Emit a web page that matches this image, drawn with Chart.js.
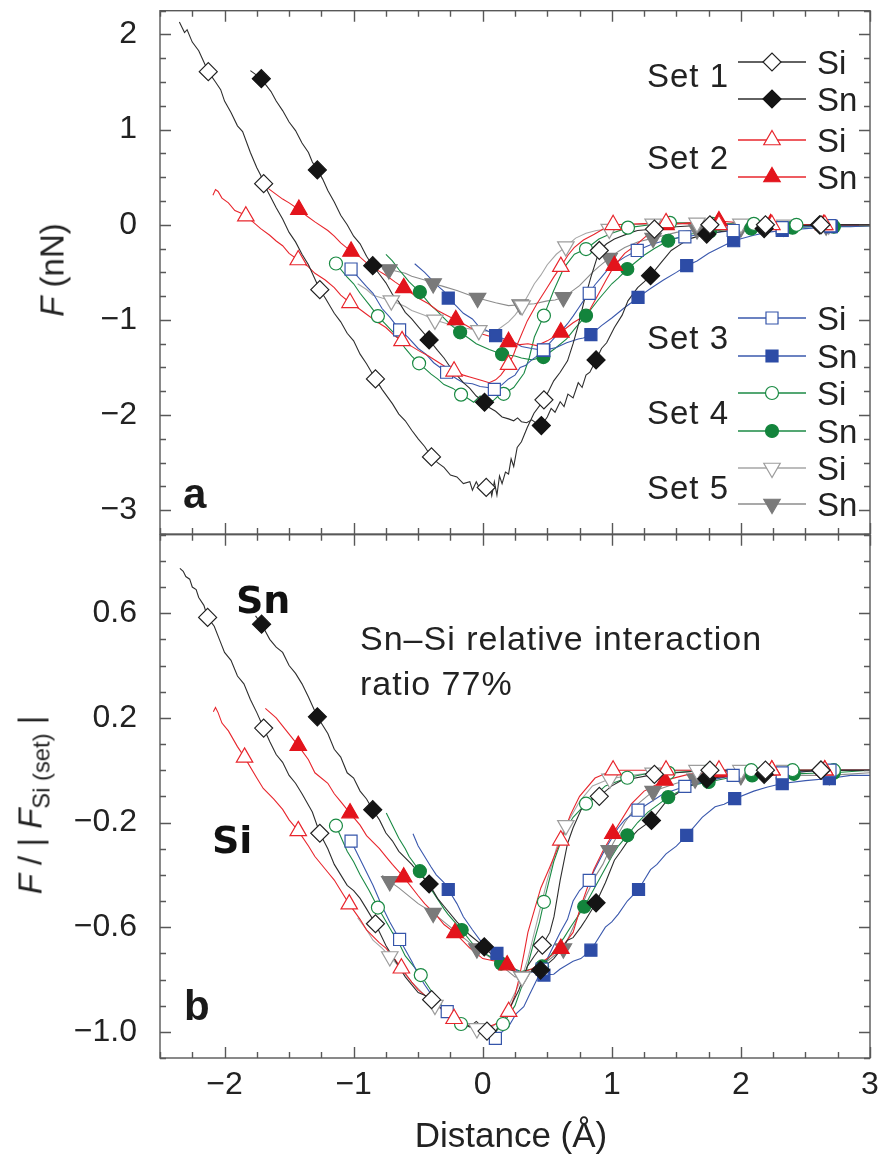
<!DOCTYPE html>
<html>
<head>
<meta charset="utf-8">
<script src="https://cdn.jsdelivr.net/npm/chart.js@4.4.1/dist/chart.umd.min.js"></script>
<style>
  html, body { margin: 0; padding: 0; background: #fff; }
  #page { position: relative; width: 888px; height: 1155px; overflow: hidden;
          font-family: "Liberation Sans", Arial, sans-serif; color: #222; }
  #page canvas { position: absolute; left: 0; }
  #chartA { top: 0; }
  #chartB { top: 524px; }
  .txt { position: absolute; white-space: nowrap; line-height: 1; }
  .ytitle { font-size: 33px; transform: translate(-50%, -50%) rotate(-90deg); }
  .ytitle .sub { font-size: 0.72em; position: relative; top: 0.32em; }
  .panel { font-size: 42px; font-weight: bold; color: #1a1a1a; }
  .tag { font-family: "DejaVu Sans", sans-serif; font-size: 38px; font-weight: bold; color: #111; }
  .note { font-size: 34px; letter-spacing: 1px; }
  .legset { font-size: 33px; letter-spacing: 1px; transform: translate(-100%, -50%); }
  .legatom { font-size: 33px; transform: translateY(-50%); }
</style>
</head>
<body>
<div id="page">
  <canvas id="chartA" width="888" height="545"></canvas>
  <canvas id="chartB" width="888" height="631"></canvas>

  <div class="txt ytitle" style="left:52px; top:270px;"><i>F</i> (nN)</div>
  <div class="txt ytitle" style="left:30px; top:805px;"><i>F</i> / | <i>F</i><span class="sub">Si (set)</span> |</div>
  <div class="txt" style="left:511px; top:1117px; font-size:35px; transform:translateX(-50%);">Distance (Å)</div>

  <div class="txt panel" style="left:183px; top:473px;">a</div>
  <div class="txt panel" style="left:184px; top:985px;">b</div>
  <div class="txt tag" style="left:236px; top:581px;">Sn</div>
  <div class="txt tag" style="left:212px; top:821px;">Si</div>
  <div class="txt note" style="left:360px; top:621px;">Sn–Si relative interaction</div>
  <div class="txt note" style="left:360px; top:666px;">ratio 77%</div>
  <div id="legendText"></div>
</div>

<script>
(function () {
  // axis extents and labelled ticks
  const DIST_MIN = -2.5, DIST_MAX = 3.0;
  const DIST_TICKS = [-2, -1, 0, 1, 2, 3];
  const FORCE_TICKS = [-3, -2, -1, 0, 1, 2];
  const RATIO_TICKS = [-1.0, -0.6, -0.2, 0.2, 0.6];
  const SET_NAMES = ["Set 1", "Set 2", "Set 3", "Set 4", "Set 5"];
  const TIP_ATOMS = ["Si", "Sn"];

  // ---- panel a: force F (nN) vs distance, [x, y] ----
  const a1SiPath = [[-2.35,2.13],[-2.31,2.02],[-2.29,2.05],[-2.25,1.92],[-2.2,1.83],[-2.17,1.74],[-2.07,1.5],[-2.03,1.42],[-2.0,1.3],[-1.95,1.18],[-1.9,1.04],[-1.86,0.98],[-1.8,0.76],[-1.75,0.6],[-1.72,0.52],[-1.65,0.31],[-1.6,0.18],[-1.55,0.06],[-1.5,-0.08],[-1.45,-0.18],[-1.4,-0.31],[-1.35,-0.42],[-1.3,-0.57],[-1.22,-0.77],[-1.15,-0.93],[-1.1,-1.02],[-1.05,-1.14],[-1.0,-1.22],[-0.95,-1.36],[-0.9,-1.46],[-0.78,-1.73],[-0.7,-1.88],[-0.65,-1.99],[-0.6,-2.06],[-0.55,-2.16],[-0.5,-2.25],[-0.45,-2.33],[-0.35,-2.5],[-0.3,-2.55],[-0.25,-2.63],[-0.2,-2.65],[-0.15,-2.72],[-0.1,-2.7],[-0.08,-2.79],[-0.05,-2.7],[-0.02,-2.78],[0.05,-2.72],[0.07,-2.85],[0.09,-2.7],[0.11,-2.84],[0.13,-2.64],[0.15,-2.72],[0.176,-2.6],[0.2,-2.62],[0.22,-2.46],[0.24,-2.54],[0.267,-2.34],[0.3,-2.28],[0.345,-2.13],[0.397,-1.98],[0.51,-1.75],[0.55,-1.64],[0.6,-1.55],[0.657,-1.43],[0.7,-1.25],[0.735,-1.08],[0.786,-0.8],[0.838,-0.55],[0.96,-0.2],[1.02,-0.15],[1.15,-0.08],[1.2,-0.06],[1.5,-0.02],[1.9,0.0],[2.4,-0.01],[2.8,0.0],[3.0,0.0]];
  const a1SiMarks = [[-2.126,1.609],[-1.697,0.432],[-1.262,-0.682],[-0.831,-1.62],[-0.397,-2.44],[0.027,-2.76],[0.474,-1.84],[0.903,-0.27],[1.33,-0.045],[1.76,0.0],[2.19,0.0],[2.62,0.0]];
  const a1SnPath = [[-1.8,1.62],[-1.68,1.47],[-1.64,1.4],[-1.6,1.3],[-1.55,1.2],[-1.5,1.08],[-1.45,0.99],[-1.4,0.86],[-1.35,0.76],[-1.32,0.66],[-1.24,0.48],[-1.2,0.36],[-1.15,0.24],[-1.1,0.1],[-1.05,0.0],[-1.0,-0.12],[-0.95,-0.2],[-0.9,-0.33],[-0.8,-0.52],[-0.75,-0.61],[-0.7,-0.73],[-0.65,-0.81],[-0.6,-0.92],[-0.55,-0.99],[-0.5,-1.07],[-0.45,-1.15],[-0.35,-1.32],[-0.3,-1.4],[-0.25,-1.5],[-0.2,-1.58],[-0.15,-1.66],[-0.1,-1.72],[-0.05,-1.8],[0.05,-1.92],[0.1,-1.96],[0.15,-2.02],[0.2,-2.04],[0.24,-2.06],[0.27,-2.03],[0.3,-2.07],[0.34,-2.08],[0.38,-2.05],[0.42,-2.09],[0.5,-2.02],[0.53,-1.93],[0.56,-1.97],[0.6,-1.86],[0.63,-1.91],[0.66,-1.78],[0.7,-1.82],[0.74,-1.66],[0.77,-1.71],[0.8,-1.58],[0.83,-1.55],[0.92,-1.3],[0.96,-1.24],[1.02,-1.08],[1.08,-0.95],[1.125,-0.8],[1.2,-0.66],[1.25,-0.6],[1.38,-0.4],[1.46,-0.27],[1.55,-0.19],[1.62,-0.14],[1.85,-0.07],[2.0,-0.05],[2.3,-0.03],[2.45,-0.01],[2.8,0.0],[3.0,0.0]];
  const a1SnMarks = [[-1.715,1.536],[-1.281,0.577],[-0.852,-0.43],[-0.415,-1.21],[0.014,-1.865],[0.454,-2.11],[0.878,-1.42],[1.3,-0.535],[1.735,-0.098],[2.18,-0.04],[2.61,0.0]];

  const a2SiPath = [[-2.09,0.31],[-2.07,0.37],[-2.05,0.35],[-2.02,0.28],[-1.97,0.23],[-1.92,0.15],[-1.87,0.12],[-1.78,0.03],[-1.72,-0.04],[-1.65,-0.11],[-1.6,-0.17],[-1.55,-0.22],[-1.5,-0.3],[-1.36,-0.43],[-1.3,-0.51],[-1.22,-0.58],[-1.15,-0.66],[-1.1,-0.74],[-0.96,-0.88],[-0.9,-0.94],[-0.82,-1.02],[-0.75,-1.08],[-0.68,-1.17],[-0.56,-1.27],[-0.5,-1.32],[-0.42,-1.38],[-0.35,-1.44],[-0.28,-1.5],[-0.15,-1.58],[-0.1,-1.6],[0.0,-1.64],[0.05,-1.66],[0.1,-1.63],[0.14,-1.58],[0.24,-1.36],[0.27,-1.25],[0.345,-1.01],[0.42,-0.83],[0.5,-0.66],[0.55,-0.55],[0.66,-0.32],[0.708,-0.24],[0.78,-0.16],[0.864,-0.1],[0.94,-0.04],[1.2,0.01],[1.6,0.01],[2.0,0.0],[2.5,0.0],[3.0,0.0]];
  const a2SiMarks = [[-1.835,0.09],[-1.429,-0.37],[-1.028,-0.82],[-0.625,-1.22],[-0.222,-1.54],[0.2,-1.47],[0.605,-0.44],[1.01,0.0],[1.42,0.02],[1.83,0.0],[2.24,0.0],[2.65,0.0]];
  const a2SnPath = [[-1.66,0.38],[-1.6,0.32],[-1.55,0.27],[-1.5,0.23],[-1.36,0.09],[-1.3,0.03],[-1.2,-0.06],[-1.15,-0.12],[-1.1,-0.19],[-0.95,-0.34],[-0.9,-0.4],[-0.8,-0.49],[-0.75,-0.53],[-0.68,-0.6],[-0.55,-0.72],[-0.5,-0.77],[-0.42,-0.83],[-0.35,-0.9],[-0.28,-0.95],[-0.15,-1.04],[-0.1,-1.08],[0.0,-1.15],[0.1,-1.19],[0.29,-1.26],[0.35,-1.25],[0.42,-1.27],[0.5,-1.22],[0.55,-1.18],[0.7,-1.03],[0.81,-0.94],[0.88,-0.77],[0.96,-0.57],[1.1,-0.3],[1.18,-0.22],[1.3,-0.08],[1.6,0.02],[2.0,0.02],[2.45,0.0],[3.0,0.0]];
  const a2SnMarks = [[-1.424,0.16],[-1.02,-0.28],[-0.612,-0.663],[-0.209,-1.0],[0.2,-1.23],[0.605,-1.13],[1.02,-0.43],[1.42,0.0],[1.83,0.04],[2.23,0.01],[2.64,0.0]];

  const a3SiPath = [[-0.9,-0.65],[-0.85,-0.72],[-0.78,-0.88],[-0.72,-0.97],[-0.58,-1.18],[-0.5,-1.3],[-0.44,-1.36],[-0.38,-1.45],[-0.2,-1.62],[-0.15,-1.66],[-0.08,-1.67],[-0.02,-1.7],[0.04,-1.71],[0.15,-1.68],[0.2,-1.62],[0.25,-1.58],[0.29,-1.5],[0.33,-1.48],[0.38,-1.42],[0.42,-1.38],[0.52,-1.24],[0.56,-1.18],[0.6,-1.13],[0.657,-1.04],[0.7,-0.96],[0.74,-0.88],[0.78,-0.8],[0.87,-0.63],[0.92,-0.55],[0.97,-0.47],[1.02,-0.41],[1.1,-0.34],[1.3,-0.21],[1.45,-0.15],[1.75,-0.09],[2.1,-0.04],[2.5,-0.02],[3.0,-0.01]];
  const a3SiMarks = [[-1.02,-0.465],[-0.644,-1.105],[-0.28,-1.55],[0.09,-1.73],[0.47,-1.315],[0.825,-0.72],[1.197,-0.27],[1.566,-0.126],[1.94,-0.06],[2.32,-0.03],[2.69,-0.01]];
  const a3SnPath = [[-0.527,-0.41],[-0.45,-0.5],[-0.4,-0.57],[-0.36,-0.63],[-0.3,-0.7],[-0.2,-0.86],[-0.15,-0.93],[-0.08,-0.99],[-0.03,-1.07],[0.03,-1.11],[0.2,-1.22],[0.25,-1.24],[0.3,-1.28],[0.38,-1.3],[0.57,-1.29],[0.65,-1.24],[0.74,-1.2],[0.78,-1.19],[0.92,-1.06],[1.0,-0.98],[1.1,-0.87],[1.15,-0.82],[1.3,-0.67],[1.4,-0.58],[1.5,-0.5],[1.66,-0.38],[1.75,-0.3],[1.85,-0.23],[2.1,-0.11],[2.2,-0.08],[2.5,-0.04],[2.85,-0.02],[3.0,-0.01]];
  const a3SnMarks = [[-0.267,-0.77],[0.1,-1.165],[0.474,-1.32],[0.838,-1.154],[1.203,-0.763],[1.58,-0.43],[1.944,-0.168],[2.32,-0.06],[2.7,-0.02]];

  const a4SiPath = [[-1.05,-0.55],[-1.0,-0.62],[-0.95,-0.72],[-0.88,-0.84],[-0.7,-1.12],[-0.65,-1.2],[-0.6,-1.3],[-0.55,-1.38],[-0.4,-1.57],[-0.35,-1.62],[-0.3,-1.68],[-0.23,-1.72],[-0.12,-1.82],[-0.07,-1.865],[-0.02,-1.8],[0.02,-1.84],[0.08,-1.85],[0.12,-1.8],[0.24,-1.71],[0.32,-1.56],[0.36,-1.4],[0.4,-1.18],[0.55,-0.69],[0.63,-0.45],[0.71,-0.31],[0.9,-0.15],[1.0,-0.09],[1.3,0.0],[1.6,0.02],[2.0,0.01],[2.6,0.0],[3.0,0.0]];
  const a4SiMarks = [[-1.137,-0.407],[-0.812,-0.96],[-0.493,-1.456],[-0.168,-1.785],[0.162,-1.777],[0.474,-0.955],[0.8,-0.255],[1.125,-0.03],[1.45,0.02],[1.78,0.01],[2.1,0.01],[2.43,0.0]];
  const a4SnPath = [[-0.75,-0.31],[-0.7,-0.38],[-0.65,-0.47],[-0.6,-0.55],[-0.57,-0.6],[-0.4,-0.85],[-0.35,-0.91],[-0.3,-0.98],[-0.25,-1.05],[-0.1,-1.2],[-0.05,-1.25],[0.05,-1.31],[0.25,-1.38],[0.3,-1.4],[0.38,-1.42],[0.56,-1.3],[0.65,-1.2],[0.72,-1.08],[0.9,-0.78],[1.0,-0.62],[1.05,-0.56],[1.25,-0.32],[1.33,-0.25],[1.6,-0.1],[1.9,-0.05],[2.25,-0.03],[2.55,-0.02],[3.0,-0.01]];
  const a4SnMarks = [[-0.487,-0.707],[-0.175,-1.13],[0.15,-1.36],[0.47,-1.39],[0.8,-0.955],[1.12,-0.465],[1.437,-0.168],[1.76,-0.07],[2.08,-0.04],[2.4,-0.03],[2.72,-0.02]];

  const a5SiPath = [[-0.969,-0.62],[-0.9,-0.68],[-0.85,-0.74],[-0.78,-0.77],[-0.6,-0.86],[-0.55,-0.9],[-0.45,-0.95],[-0.25,-1.05],[-0.2,-1.07],[-0.12,-1.09],[0.05,-1.12],[0.12,-1.1],[0.2,-1.02],[0.25,-0.95],[0.36,-0.72],[0.4,-0.62],[0.45,-0.53],[0.5,-0.42],[0.57,-0.31],[0.72,-0.14],[0.8,-0.09],[0.88,-0.06],[1.15,0.0],[1.5,0.01],[2.2,0.01],[3.0,0.0]];
  const a5SiMarks = [[-0.708,-0.797],[-0.37,-1.0],[-0.03,-1.11],[0.305,-0.85],[0.644,-0.23],[0.98,-0.045],[1.32,0.01],[1.66,0.02],[2.0,0.01],[2.34,0.0],[2.68,0.0]];
  const a5SnPath = [[-0.778,-0.465],[-0.6,-0.51],[-0.55,-0.54],[-0.45,-0.58],[-0.3,-0.65],[-0.2,-0.69],[-0.1,-0.74],[0.1,-0.82],[0.2,-0.85],[0.4,-0.83],[0.5,-0.8],[0.56,-0.79],[0.7,-0.69],[0.75,-0.64],[0.85,-0.5],[0.9,-0.44],[1.05,-0.28],[1.1,-0.24],[1.2,-0.18],[1.5,-0.08],[1.8,-0.04],[2.2,-0.02],[2.5,-0.01],[3.0,0.0]];
  const a5SnMarks = [[-0.727,-0.47],[-0.384,-0.617],[-0.04,-0.77],[0.29,-0.84],[0.625,-0.763],[0.98,-0.35],[1.32,-0.14],[1.66,-0.05],[2.0,-0.03],[2.33,-0.02],[2.66,-0.01]];

  // ---- panel b: F / |F_Si(set)| vs distance ----
  const b1SiPath = [[-2.346,0.771],[-2.32,0.76],[-2.3,0.74],[-2.27,0.73],[-2.25,0.7],[-2.22,0.69],[-2.2,0.66],[-2.16,0.63],[-2.08,0.55],[-2.04,0.5],[-2.0,0.45],[-1.95,0.42],[-1.9,0.36],[-1.85,0.33],[-1.8,0.27],[-1.75,0.22],[-1.65,0.11],[-1.6,0.06],[-1.55,0.03],[-1.5,-0.02],[-1.45,-0.05],[-1.4,-0.09],[-1.32,-0.16],[-1.2,-0.3],[-1.15,-0.36],[-1.1,-0.4],[-1.05,-0.44],[-1.0,-0.46],[-0.95,-0.49],[-0.9,-0.53],[-0.75,-0.67],[-0.7,-0.71],[-0.6,-0.79],[-0.5,-0.85],[-0.45,-0.86],[-0.3,-0.92],[-0.2,-0.96],[-0.1,-0.98],[-0.05,-0.96],[0.1,-1.0],[0.13,-0.97],[0.15,-0.98],[0.2,-0.92],[0.24,-0.879],[0.28,-0.84],[0.345,-0.75],[0.4,-0.71],[0.52,-0.62],[0.552,-0.56],[0.6,-0.42],[0.657,-0.28],[0.7,-0.22],[0.76,-0.153],[0.82,-0.12],[1.0,-0.06],[1.07,-0.04],[1.5,-0.01],[2.0,0.0],[2.4,0.0],[3.0,0.0]];
  const b1SiMarks = [[-2.131,0.584],[-1.697,0.161],[-1.262,-0.241],[-0.831,-0.587],[-0.396,-0.877],[0.033,-0.997],[0.462,-0.669],[0.903,-0.1],[1.33,-0.016],[1.76,0.0],[2.19,0.0],[2.62,0.0]];
  const b1SnPath = [[-1.76,0.59],[-1.65,0.5],[-1.6,0.47],[-1.55,0.45],[-1.5,0.4],[-1.45,0.37],[-1.4,0.33],[-1.35,0.28],[-1.2,0.14],[-1.15,0.08],[-1.1,0.05],[-1.05,-0.01],[-1.0,-0.03],[-0.95,-0.08],[-0.9,-0.11],[-0.8,-0.19],[-0.75,-0.24],[-0.7,-0.27],[-0.65,-0.31],[-0.55,-0.36],[-0.5,-0.39],[-0.35,-0.49],[-0.3,-0.52],[-0.2,-0.58],[-0.1,-0.63],[0.1,-0.72],[0.2,-0.76],[0.3,-0.78],[0.38,-0.77],[0.55,-0.72],[0.6,-0.69],[0.657,-0.65],[0.7,-0.64],[0.76,-0.6],[0.8,-0.57],[0.95,-0.43],[1.02,-0.344],[1.07,-0.31],[1.125,-0.27],[1.2,-0.23],[1.42,-0.12],[1.54,-0.077],[1.6,-0.06],[1.95,-0.02],[2.4,-0.01],[3.0,0.0]];
  const b1SnMarks = [[-1.713,0.558],[-1.281,0.204],[-0.852,-0.151],[-0.415,-0.435],[0.012,-0.675],[0.448,-0.764],[0.878,-0.507],[1.307,-0.192],[1.735,-0.033],[2.18,-0.016],[2.62,0.0]];

  const b2SiPath = [[-2.087,0.223],[-2.07,0.24],[-2.05,0.22],[-2.02,0.18],[-1.97,0.15],[-1.9,0.09],[-1.75,-0.03],[-1.7,-0.07],[-1.62,-0.11],[-1.55,-0.15],[-1.5,-0.19],[-1.35,-0.29],[-1.3,-0.33],[-1.2,-0.39],[-1.15,-0.42],[-1.1,-0.46],[-0.95,-0.57],[-0.9,-0.61],[-0.8,-0.66],[-0.75,-0.68],[-0.7,-0.71],[-0.55,-0.81],[-0.5,-0.84],[-0.4,-0.88],[-0.35,-0.9],[-0.3,-0.92],[-0.15,-0.96],[-0.1,-0.98],[-0.05,-0.97],[0.0,-0.99],[0.05,-0.98],[0.1,-0.97],[0.15,-0.95],[0.25,-0.86],[0.28,-0.8],[0.32,-0.7],[0.35,-0.62],[0.45,-0.45],[0.52,-0.37],[0.68,-0.17],[0.75,-0.1],[0.87,-0.03],[1.2,0.0],[1.6,0.0],[2.2,0.0],[3.0,0.0]];
  const b2SiMarks = [[-1.845,0.049],[-1.429,-0.232],[-1.034,-0.512],[-0.63,-0.757],[-0.222,-0.95],[0.201,-0.923],[0.605,-0.268],[1.01,0.0],[1.42,0.0],[1.83,0.0],[2.24,0.0],[2.65,0.0]];
  const b2SnPath = [[-1.684,0.236],[-1.6,0.2],[-1.52,0.15],[-1.35,0.04],[-1.3,-0.01],[-1.2,-0.05],[-1.15,-0.09],[-1.1,-0.12],[-0.95,-0.21],[-0.9,-0.25],[-0.8,-0.3],[-0.75,-0.33],[-0.7,-0.36],[-0.5,-0.48],[-0.45,-0.51],[-0.35,-0.56],[-0.3,-0.59],[-0.1,-0.68],[0.0,-0.72],[0.1,-0.73],[0.28,-0.78],[0.32,-0.77],[0.38,-0.76],[0.5,-0.72],[0.7,-0.62],[0.76,-0.52],[0.86,-0.38],[0.93,-0.31],[1.15,-0.13],[1.25,-0.08],[1.6,-0.015],[2.0,0.0],[2.45,0.0],[3.0,0.0]];
  const b2SnMarks = [[-1.429,0.094],[-1.028,-0.164],[-0.612,-0.409],[-0.215,-0.622],[0.189,-0.745],[0.605,-0.682],[1.008,-0.243],[1.41,-0.039],[1.827,-0.007],[2.24,0.0],[2.65,0.0]];

  const b3SiPath = [[-0.9,-0.39],[-0.85,-0.44],[-0.78,-0.52],[-0.72,-0.58],[-0.55,-0.73],[-0.5,-0.78],[-0.45,-0.82],[-0.38,-0.87],[-0.2,-0.95],[-0.15,-0.97],[-0.05,-0.99],[0.0,-1.0],[0.05,-1.02],[0.15,-1.0],[0.2,-0.98],[0.26,-0.93],[0.318,-0.904],[0.36,-0.86],[0.4,-0.82],[0.55,-0.67],[0.6,-0.62],[0.657,-0.57],[0.7,-0.5],[0.75,-0.46],[0.95,-0.3],[1.05,-0.22],[1.1,-0.19],[1.4,-0.09],[1.75,-0.04],[2.1,-0.015],[2.5,-0.005],[3.0,0.0]];
  const b3SiMarks = [[-1.02,-0.271],[-0.644,-0.647],[-0.275,-0.923],[0.098,-1.025],[0.46,-0.76],[0.825,-0.421],[1.203,-0.153],[1.566,-0.062],[1.94,-0.02],[2.32,-0.01],[2.69,0.0]];
  const b3SnPath = [[-0.54,-0.243],[-0.5,-0.29],[-0.45,-0.33],[-0.4,-0.37],[-0.36,-0.4],[-0.3,-0.43],[-0.2,-0.51],[-0.15,-0.56],[-0.08,-0.61],[-0.02,-0.65],[0.05,-0.68],[0.2,-0.74],[0.3,-0.78],[0.38,-0.77],[0.55,-0.78],[0.6,-0.76],[0.7,-0.73],[0.76,-0.72],[0.95,-0.6],[1.0,-0.58],[1.05,-0.55],[1.12,-0.5],[1.3,-0.38],[1.35,-0.36],[1.42,-0.32],[1.5,-0.29],[1.7,-0.18],[1.8,-0.14],[1.87,-0.13],[2.1,-0.08],[2.2,-0.065],[2.5,-0.04],[2.85,-0.02],[3.0,-0.02]];
  const b3SnMarks = [[-0.267,-0.456],[0.11,-0.7],[0.474,-0.783],[0.838,-0.688],[1.207,-0.456],[1.58,-0.249],[1.952,-0.109],[2.32,-0.051],[2.685,-0.032]];

  const b4SiPath = [[-1.05,-0.31],[-1.0,-0.35],[-0.95,-0.4],[-0.88,-0.46],[-0.7,-0.62],[-0.65,-0.66],[-0.6,-0.71],[-0.55,-0.74],[-0.35,-0.88],[-0.3,-0.91],[-0.25,-0.94],[-0.05,-0.99],[0.05,-0.98],[0.1,-1.0],[0.25,-0.9],[0.3,-0.83],[0.33,-0.78],[0.4,-0.65],[0.44,-0.58],[0.55,-0.35],[0.6,-0.28],[0.65,-0.22],[0.7,-0.18],[0.95,-0.06],[1.3,-0.01],[2.0,0.0],[3.0,0.0]];
  const b4SiMarks = [[-1.137,-0.212],[-0.812,-0.525],[-0.48,-0.783],[-0.168,-0.97],[0.157,-0.97],[0.474,-0.503],[0.8,-0.128],[1.12,-0.029],[1.44,-0.01],[1.76,0.0],[2.08,0.0],[2.4,0.0],[2.72,0.0]];
  const b4SnPath = [[-0.747,-0.164],[-0.7,-0.21],[-0.65,-0.26],[-0.6,-0.3],[-0.57,-0.33],[-0.42,-0.44],[-0.38,-0.47],[-0.3,-0.53],[-0.27,-0.55],[-0.1,-0.65],[-0.05,-0.68],[0.05,-0.71],[0.25,-0.76],[0.3,-0.77],[0.38,-0.76],[0.57,-0.68],[0.63,-0.64],[0.68,-0.6],[0.9,-0.42],[1.0,-0.33],[1.05,-0.29],[1.2,-0.2],[1.28,-0.16],[1.6,-0.06],[1.9,-0.03],[2.25,-0.017],[2.55,-0.012],[3.0,0.0]];
  const b4SnMarks = [[-0.487,-0.386],[-0.163,-0.611],[0.142,-0.739],[0.46,-0.75],[0.786,-0.522],[1.12,-0.249],[1.437,-0.103],[1.75,-0.045],[2.087,-0.02],[2.41,-0.014],[2.72,-0.01]];

  const b5SiPath = [[-0.969,-0.564],[-0.9,-0.61],[-0.85,-0.65],[-0.78,-0.68],[-0.65,-0.75],[-0.55,-0.81],[-0.45,-0.86],[-0.3,-0.92],[-0.2,-0.95],[-0.1,-0.97],[0.05,-0.99],[0.1,-0.97],[0.15,-0.95],[0.22,-0.88],[0.26,-0.84],[0.35,-0.72],[0.4,-0.62],[0.45,-0.52],[0.5,-0.42],[0.57,-0.3],[0.6,-0.26],[0.75,-0.12],[0.85,-0.06],[1.15,-0.02],[1.5,0.0],[3.0,0.0]];
  const b5SiMarks = [[-0.72,-0.712],[-0.37,-0.898],[-0.045,-0.987],[0.305,-0.79],[0.644,-0.211],[0.985,-0.033],[1.32,-0.01],[1.66,0.0],[2.0,0.0],[2.34,0.0],[2.68,0.0]];
  const b5SnPath = [[-0.778,-0.402],[-0.65,-0.45],[-0.55,-0.49],[-0.5,-0.51],[-0.3,-0.58],[-0.2,-0.62],[-0.1,-0.66],[0.1,-0.73],[0.2,-0.77],[0.25,-0.79],[0.4,-0.76],[0.5,-0.73],[0.55,-0.71],[0.72,-0.58],[0.8,-0.48],[0.88,-0.4],[0.93,-0.36],[1.1,-0.2],[1.2,-0.13],[1.5,-0.05],[1.8,-0.025],[2.2,-0.02],[2.5,-0.02],[3.0,-0.01]];
  const b5SnMarks = [[-0.72,-0.425],[-0.384,-0.546],[-0.045,-0.682],[0.305,-0.79],[0.625,-0.682],[0.98,-0.306],[1.32,-0.08],[1.645,-0.033],[2.0,-0.02],[2.33,-0.02],[2.685,-0.02]];

  // per set: [Si, Sn] as [path, marks]
  const panelA = [
    [[a1SiPath, a1SiMarks], [a1SnPath, a1SnMarks]],
    [[a2SiPath, a2SiMarks], [a2SnPath, a2SnMarks]],
    [[a3SiPath, a3SiMarks], [a3SnPath, a3SnMarks]],
    [[a4SiPath, a4SiMarks], [a4SnPath, a4SnMarks]],
    [[a5SiPath, a5SiMarks], [a5SnPath, a5SnMarks]],
  ];
  const panelB = [
    [[b1SiPath, b1SiMarks], [b1SnPath, b1SnMarks]],
    [[b2SiPath, b2SiMarks], [b2SnPath, b2SnMarks]],
    [[b3SiPath, b3SiMarks], [b3SnPath, b3SnMarks]],
    [[b4SiPath, b4SiMarks], [b4SnPath, b4SnMarks]],
    [[b5SiPath, b5SiMarks], [b5SnPath, b5SnMarks]],
  ];

  // line colour / marker colour for [Si, Sn]; Si markers are open
  const LOOKS = [
    { line: ["#2e2e2e", "#2e2e2e"], mark: ["#222222", "#141414"], shape: "rectRot", r: 9, rot: 0 },
    { line: ["#e8262d", "#e8262d"], mark: ["#e8262d", "#e3141c"], shape: "triangle", r: 9.5, rot: 0 },
    { line: ["#3a58ad", "#3a58ad"], mark: ["#3555aa", "#2d4ca6"], shape: "rect", r: 8.5, rot: 0 },
    { line: ["#1b8a45", "#1b8a45"], mark: ["#1a8a43", "#13843c"], shape: "circle", r: 6.5, rot: 0 },
    { line: ["#a6a6a6", "#8c8c8c"], mark: ["#9d9d9d", "#7a7a7a"], shape: "triangle", r: 9.5, rot: 180 },
  ];

  const toXY = (pts) => pts.map((p) => ({ x: p[0], y: p[1] }));

  function buildDatasets(panel) {
    const lines = [];
    const marks = [];
    panel.forEach((pair, s) => {
      const look = LOOKS[s];
      pair.forEach(([path, pts], k) => {
        const merged = toXY(path.concat(pts)).sort((p, q) => p.x - q.x);
        lines.push({
          label: SET_NAMES[s] + " " + TIP_ATOMS[k],
          data: merged,
          showLine: true,
          borderColor: look.line[k],
          borderWidth: 1.1,
          pointRadius: 0,
          pointHoverRadius: 0,
          order: 10,
        });
        marks.push({
          label: SET_NAMES[s] + " " + TIP_ATOMS[k] + " markers",
          data: toXY(pts),
          showLine: false,
          pointStyle: look.shape,
          pointRadius: look.r,
          pointHoverRadius: look.r,
          pointRotation: look.rot,
          pointBackgroundColor: k === 0 ? "#ffffff" : look.mark[k],
          pointBorderColor: look.mark[k],
          pointBorderWidth: 1.2,
          order: 1,
        });
      });
    });
    return lines.concat(marks);
  }

  function stepValues(from, to, step) {
    const out = [];
    const n = Math.round((to - from) / step);
    for (let i = 0; i <= n; i++) out.push(Math.round((from + i * step) * 1000) / 1000);
    return out;
  }

  function isMajor(v, base, step) {
    const q = (v - base) / step;
    return Math.abs(q - Math.round(q)) < 1e-6;
  }

  // boxed frame with inward ticks on all four sides
  const frameTicks = {
    id: "frameTicks",
    afterDraw(chart, args, opts) {
      const { ctx, chartArea: area } = chart;
      const xs = chart.scales.x;
      const ys = chart.scales.y;
      const big = 11, small = 6;
      ctx.save();
      ctx.strokeStyle = "#585858";
      ctx.lineWidth = 1.4;
      ctx.strokeRect(area.left, area.top, area.right - area.left, area.bottom - area.top);
      ctx.beginPath();
      stepValues(DIST_MIN, DIST_MAX, 0.25).forEach((v) => {
        const px = Math.round(xs.getPixelForValue(v)) + 0.5;
        const len = isMajor(v, 0, 1) ? big : small;
        ctx.moveTo(px, area.bottom); ctx.lineTo(px, area.bottom - len);
        ctx.moveTo(px, area.top); ctx.lineTo(px, area.top + len);
      });
      stepValues(ys.min, ys.max, opts.minor).forEach((v) => {
        const py = Math.round(ys.getPixelForValue(v)) + 0.5;
        const len = isMajor(v, opts.base, opts.major) ? big : small;
        ctx.moveTo(area.left, py); ctx.lineTo(area.left + len, py);
        ctx.moveTo(area.right, py); ctx.lineTo(area.right - len, py);
      });
      ctx.stroke();
      ctx.restore();
    },
  };

  // legend symbols (line + marker) for panel a
  const LEGEND_LINE = [738, 806];
  const LEGEND_ROWS = [[62, 99], [140, 177], [318, 356], [393, 431], [468, 504]];
  const LEGEND_SET_Y = [75, 157, 337, 412, 487];

  const legendSymbols = {
    id: "legendSymbols",
    afterDraw(chart) {
      const ctx = chart.ctx;
      const drawPoint = Chart.helpers && Chart.helpers.drawPoint;
      ctx.save();
      LOOKS.forEach((look, s) => {
        TIP_ATOMS.forEach((atom, k) => {
          const y = LEGEND_ROWS[s][k];
          ctx.strokeStyle = look.line[k];
          ctx.lineWidth = 1.3;
          ctx.beginPath();
          ctx.moveTo(LEGEND_LINE[0], y);
          ctx.lineTo(LEGEND_LINE[1], y);
          ctx.stroke();
          if (drawPoint) {
            ctx.fillStyle = k === 0 ? "#ffffff" : look.mark[k];
            ctx.strokeStyle = look.mark[k];
            ctx.lineWidth = 1.2;
            drawPoint(ctx, { pointStyle: look.shape, radius: look.r, rotation: look.rot, borderWidth: 1.2 },
              (LEGEND_LINE[0] + LEGEND_LINE[1]) / 2, y);
          }
        });
      });
      ctx.restore();
    },
  };

  const minusFmt = (digits) => (v) => (v < 0 ? "\u2212" : "") + Math.abs(v).toFixed(digits);
  const TICK_FONT = { family: "'Liberation Sans', Arial, sans-serif", size: 32 };

  function makePanel(canvasId, datasets, cfg) {
    const el = document.getElementById(canvasId);
    if (!el || typeof Chart === "undefined") return null;
    return new Chart(el, {
      type: "scatter",
      data: { datasets },
      options: {
        responsive: false,
        animation: false,
        events: [],
        layout: { padding: cfg.padding },
        plugins: {
          legend: { display: false },
          tooltip: { enabled: false },
          frameTicks: { minor: cfg.minor, major: cfg.major, base: cfg.base },
        },
        scales: {
          x: {
            type: "linear",
            min: DIST_MIN,
            max: DIST_MAX,
            grid: { display: false, drawTicks: false },
            border: { display: false },
            afterBuildTicks: (s) => { s.ticks = DIST_TICKS.map((v) => ({ value: v })); },
            afterFit: (s) => {
              s.height = cfg.xHeight;
              s.paddingLeft = 0;
              s.paddingRight = 0;
            },
            ticks: {
              display: cfg.xLabels,
              autoSkip: false,
              maxRotation: 0,
              padding: 8,
              color: "#222",
              font: TICK_FONT,
              callback: minusFmt(0),
            },
          },
          y: {
            type: "linear",
            min: cfg.yMin,
            max: cfg.yMax,
            grid: { display: false, drawTicks: false },
            border: { display: false },
            afterBuildTicks: (s) => { s.ticks = cfg.yTicks.map((v) => ({ value: v })); },
            afterFit: (s) => {
              s.width = 160;
              s.paddingTop = 0;
              s.paddingBottom = 0;
            },
            ticks: {
              autoSkip: false,
              padding: 23,
              color: "#222",
              font: TICK_FONT,
              callback: minusFmt(cfg.digits),
            },
          },
        },
      },
      plugins: cfg.extra.concat([frameTicks]),
    });
  }

  function placeLegendText() {
    const host = document.getElementById("legendText");
    if (!host) return;
    SET_NAMES.forEach((name, s) => {
      const set = document.createElement("div");
      set.className = "txt legset";
      set.style.left = "729px";
      set.style.top = LEGEND_SET_Y[s] + "px";
      set.textContent = name;
      host.appendChild(set);
      TIP_ATOMS.forEach((atom, k) => {
        const t = document.createElement("div");
        t.className = "txt legatom";
        t.style.left = "817px";
        t.style.top = LEGEND_ROWS[s][k] + "px";
        t.textContent = atom;
        host.appendChild(t);
      });
    });
  }

  makePanel("chartA", buildDatasets(panelA), {
    padding: { top: 10, right: 18, bottom: 11, left: 0 },
    yMin: -3.25, yMax: 2.25, yTicks: FORCE_TICKS, digits: 0,
    minor: 0.25, major: 1, base: 0,
    xHeight: 0, xLabels: false,
    extra: [legendSymbols],
  });

  makePanel("chartB", buildDatasets(panelB), {
    padding: { top: 10, right: 18, bottom: 0, left: 0 },
    yMin: -1.1, yMax: 0.9, yTicks: RATIO_TICKS, digits: 1,
    minor: 0.1, major: 0.4, base: -1.0,
    xHeight: 97, xLabels: true,
    extra: [],
  });

  placeLegendText();
})();
</script>
</body>
</html>
